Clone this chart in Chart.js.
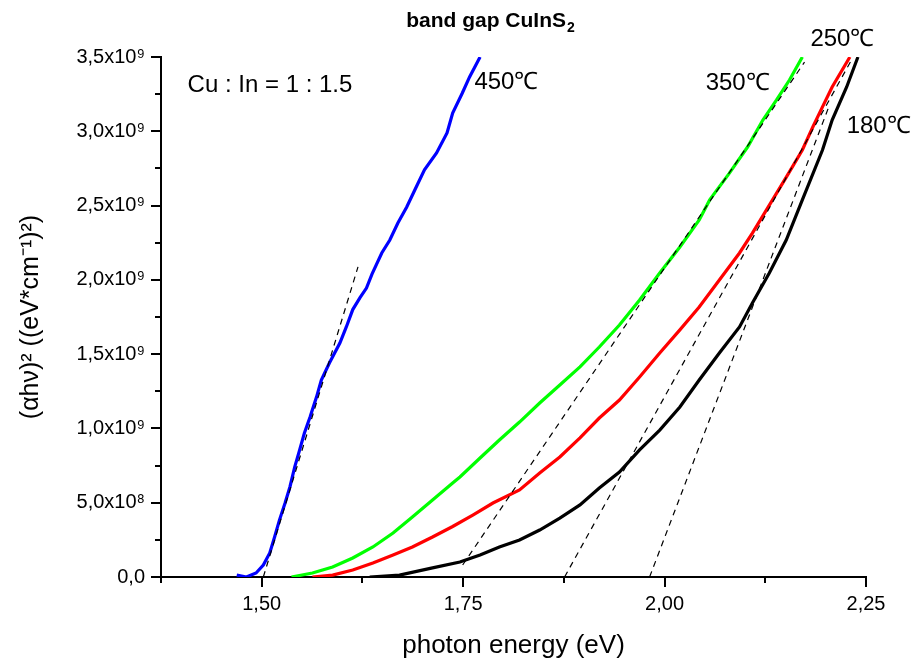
<!DOCTYPE html>
<html>
<head>
<meta charset="utf-8">
<script src="https://cdn.jsdelivr.net/npm/chart.js@4"></script>
<style>
  body { margin: 0; background: #fff; }
  #wrap { width: 919px; height: 664px; }
</style>
</head>
<body>
<div id="wrap"><canvas id="bandGap" width="919" height="664"></canvas></div>
<script>
// photon energy (eV) and (alpha h nu)^2 in units of 1e9 (eV*cm^-1)^2
const blueE  = [1.469, 1.481, 1.493, 1.502, 1.510, 1.516, 1.522, 1.529, 1.535, 1.541, 1.547, 1.553, 1.560, 1.568, 1.574, 1.584, 1.597, 1.605, 1.613, 1.622, 1.630, 1.637, 1.649, 1.659, 1.669, 1.680, 1.690, 1.702, 1.717, 1.730, 1.737, 1.749, 1.758, 1.771];
const blueV  = [0.013, 0.000, 0.027, 0.081, 0.162, 0.269, 0.383, 0.498, 0.606, 0.741, 0.854, 0.969, 1.077, 1.211, 1.325, 1.440, 1.575, 1.683, 1.800, 1.880, 1.945, 2.040, 2.181, 2.268, 2.383, 2.490, 2.605, 2.740, 2.854, 2.989, 3.123, 3.258, 3.366, 3.500];

const greenE = [1.537, 1.563, 1.588, 1.613, 1.638, 1.663, 1.687, 1.712, 1.737, 1.746, 1.771, 1.795, 1.820, 1.845, 1.870, 1.895, 1.919, 1.944, 1.969, 1.994, 2.019, 2.043, 2.056, 2.080, 2.103, 2.122, 2.139, 2.155, 2.171];
const greenV = [0.000, 0.027, 0.067, 0.128, 0.202, 0.296, 0.404, 0.518, 0.633, 0.673, 0.801, 0.922, 1.043, 1.171, 1.292, 1.414, 1.548, 1.696, 1.864, 2.046, 2.221, 2.403, 2.538, 2.715, 2.894, 3.076, 3.211, 3.345, 3.500];

const redE   = [1.563, 1.588, 1.613, 1.638, 1.663, 1.687, 1.712, 1.737, 1.762, 1.787, 1.820, 1.845, 1.870, 1.895, 1.919, 1.944, 1.969, 1.994, 2.019, 2.043, 2.068, 2.093, 2.109, 2.134, 2.152, 2.171, 2.184, 2.196, 2.208, 2.230];
const redV   = [0.000, 0.013, 0.047, 0.094, 0.148, 0.202, 0.269, 0.340, 0.417, 0.498, 0.586, 0.700, 0.808, 0.936, 1.070, 1.191, 1.346, 1.508, 1.663, 1.817, 1.999, 2.181, 2.315, 2.538, 2.700, 2.874, 3.029, 3.164, 3.298, 3.500];

const blackE = [1.634, 1.671, 1.712, 1.746, 1.771, 1.795, 1.820, 1.845, 1.870, 1.895, 1.919, 1.944, 1.969, 1.994, 2.019, 2.043, 2.068, 2.093, 2.109, 2.130, 2.151, 2.171, 2.196, 2.208, 2.226, 2.240];
const blackV = [0.000, 0.013, 0.061, 0.101, 0.148, 0.202, 0.249, 0.316, 0.397, 0.485, 0.599, 0.707, 0.855, 0.989, 1.144, 1.326, 1.508, 1.683, 1.844, 2.046, 2.268, 2.538, 2.874, 3.076, 3.298, 3.500];

// linear fits (dashed), two end points each
const fitBlueE  = [1.502, 1.6195];
const fitBlueV  = [0.000, 2.087];
const fitGreenE = [1.7494, 2.1737];
const fitGreenV = [0.081, 3.466];
const fitRedE   = [1.8759, 2.2320];
const fitRedV   = [0.000, 3.480];
const fitBlackE = [1.9814, 2.2047];
const fitBlackV = [0.000, 3.177];

// text labels placed in data coordinates
const labelText = ['Cu : In = 1 : 1.5', '450\u2103', '350\u2103', '250\u2103', '180\u2103'];
const labelE    = [1.408, 1.764, 2.051, 2.181, 2.226];
const labelV    = [3.312, 3.332, 3.325, 3.621, 3.036];

const xMinorTicks = [1.375, 1.625, 1.875, 2.125];
const yMinorTicks = [0.25, 0.75, 1.25, 1.75, 2.25, 2.75, 3.25];

const FONT = '"Liberation Sans", Arial, Helvetica, sans-serif';

function pts(xs, ys) {
  return xs.map((x, i) => ({ x: x, y: ys[i] }));
}

function curve(xs, ys, color) {
  return { data: pts(xs, ys), borderColor: color, borderWidth: 3.2, pointRadius: 0, tension: 0, fill: false };
}

function fitLine(xs, ys) {
  return { data: pts(xs, ys), borderColor: '#000', borderWidth: 1.2, borderDash: [6, 5], pointRadius: 0, fill: false };
}

const extras = {
  id: 'extras',
  afterDraw(chart) {
    const ctx = chart.ctx;
    const xs = chart.scales.x, ys = chart.scales.y;
    ctx.save();
    ctx.strokeStyle = '#000';
    ctx.lineWidth = 2;
    // minor ticks
    yMinorTicks.forEach(v => {
      const py = Math.round(ys.getPixelForValue(v));
      ctx.beginPath(); ctx.moveTo(ys.right - 6, py); ctx.lineTo(ys.right, py); ctx.stroke();
    });
    xMinorTicks.forEach(v => {
      const px = Math.round(xs.getPixelForValue(v));
      ctx.beginPath(); ctx.moveTo(px, xs.top); ctx.lineTo(px, xs.top + 6); ctx.stroke();
    });
    // labels
    ctx.fillStyle = '#000';
    ctx.textBaseline = 'middle';
    ctx.textAlign = 'left';
    ctx.font = '24px ' + FONT;
    labelText.forEach((t, i) => {
      ctx.fillText(t, xs.getPixelForValue(labelE[i]), ys.getPixelForValue(labelV[i]));
    });
    // title with subscript
    ctx.textBaseline = 'alphabetic';
    ctx.font = 'bold 21px ' + FONT;
    const main = 'band gap CuInS';
    const w1 = ctx.measureText(main).width;
    ctx.font = 'bold 14px ' + FONT;
    const w2 = ctx.measureText('2').width;
    const x0 = 490 - (w1 + w2) / 2;
    ctx.font = 'bold 21px ' + FONT;
    ctx.fillText(main, x0, 27);
    ctx.font = 'bold 14px ' + FONT;
    ctx.fillText('2', x0 + w1 + 1, 32);
    ctx.restore();
  }
};

Chart.defaults.font.family = FONT;
Chart.defaults.color = '#000';

new Chart(document.getElementById('bandGap').getContext('2d'), {
  type: 'line',
  data: {
    datasets: [
      fitLine(fitBlueE, fitBlueV),
      fitLine(fitGreenE, fitGreenV),
      fitLine(fitRedE, fitRedV),
      fitLine(fitBlackE, fitBlackV),
      curve(blueE, blueV, '#0000ff'),
      curve(greenE, greenV, '#00ff00'),
      curve(redE, redV, '#ff0000'),
      curve(blackE, blackV, '#000000')
    ]
  },
  options: {
    responsive: false,
    animation: false,
    layout: { padding: { left: 0, right: 53, top: 57, bottom: 0 } },
    plugins: { legend: { display: false }, tooltip: { enabled: false }, title: { display: false } },
    scales: {
      x: {
        type: 'linear',
        min: 1.375,
        max: 2.25,
        border: { color: '#000', width: 2 },
        grid: { drawOnChartArea: false, color: '#000', lineWidth: 2, tickLength: 10 },
        ticks: {
          stepSize: 0.25,
          padding: 5,
          font: { size: 20 },
          maxRotation: 0,
          callback: v => (Math.abs(v - 1.375) < 1e-6 ? null : v.toFixed(2).replace('.', ','))
        },
        title: { display: true, text: 'photon energy (eV)', font: { size: 26 }, padding: { top: 0, bottom: 3 } },
        afterFit: s => { s.height = 87; }
      },
      y: {
        min: 0,
        max: 3.5,
        border: { color: '#000', width: 2 },
        grid: { drawOnChartArea: false, color: '#000', lineWidth: 2, tickLength: 10 },
        ticks: {
          stepSize: 0.5,
          padding: 6,
          font: { size: 20 },
          callback: v => {
            if (v === 0) return '0,0';
            if (v < 1) return (v * 10).toFixed(1).replace('.', ',') + 'x10\u2078';
            return v.toFixed(1).replace('.', ',') + 'x10\u2079';
          }
        },
        title: { display: true, text: '(\u03b1h\u03bd)\u00b2 ((eV*cm\u207b\u00b9)\u00b2)', font: { size: 25 }, padding: { top: 16, bottom: 0 } },
        afterFit: s => { s.width = 161; }
      }
    }
  },
  plugins: [extras]
});
</script>
</body>
</html>
